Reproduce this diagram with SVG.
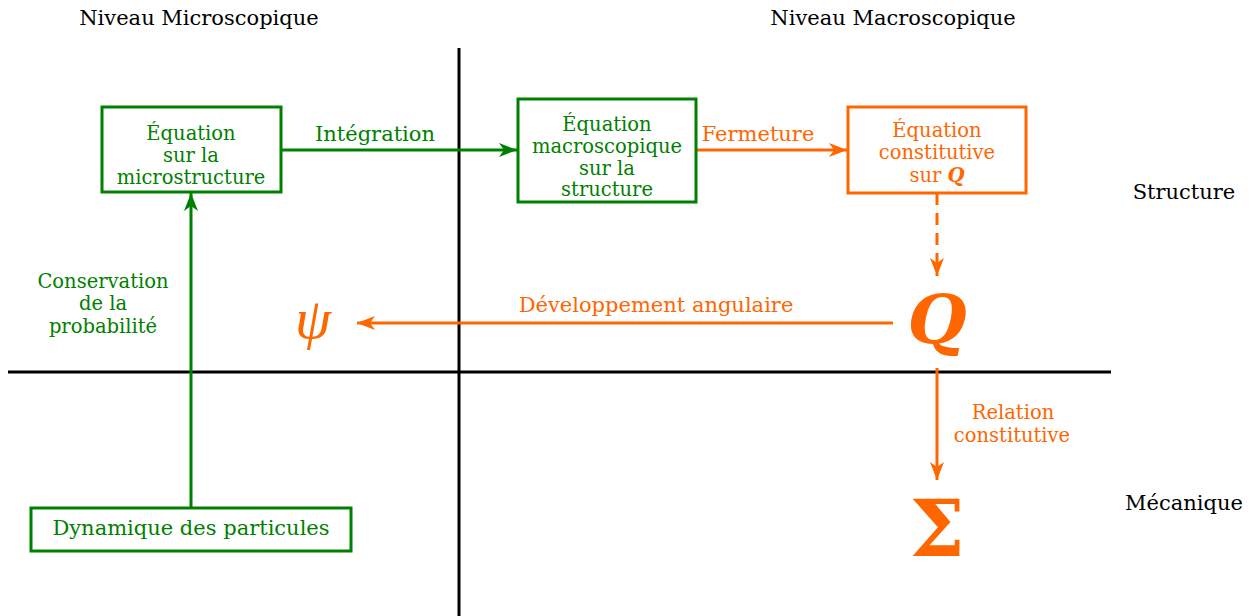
<svg xmlns="http://www.w3.org/2000/svg" width="1253" height="616" viewBox="0 0 1253 616">
<style>
text{font-family:"DejaVu Serif","Liberation Serif",serif;font-size:21px;text-anchor:middle}
text.s{font-size:19.5px}
.g{fill:#008000}
.o{fill:#ff6600}
.k{fill:#000}
.box{fill:#fff;stroke-width:3}
.gb{stroke:#008000}
.ob{stroke:#ff6600}
.ax{stroke:#000;stroke-width:3;fill:none}
.gl{stroke:#008000;stroke-width:3;fill:none}
.ol{stroke:#ff6600;stroke-width:3;fill:none}
.bi{font-weight:bold;font-style:italic}
</style>
<defs>
<marker id="ag" markerUnits="userSpaceOnUse" markerWidth="20" markerHeight="16" refX="18" refY="8" orient="auto" viewBox="0 0 20 16">
<path d="M18,8 L0,1 L5,8 L0,15 Z" fill="#008000"/>
</marker>
<marker id="ao" markerUnits="userSpaceOnUse" markerWidth="20" markerHeight="16" refX="18" refY="8" orient="auto" viewBox="0 0 20 16">
<path d="M18,8 L0,1 L5,8 L0,15 Z" fill="#ff6600"/>
</marker>
</defs>

<g id="axes">
<line class="ax" x1="459" y1="48" x2="459" y2="616"/>
<line class="ax" x1="8" y1="372" x2="1111" y2="372"/>
</g>

<g id="headers">
<text class="k" x="199" y="25">Niveau Microscopique</text>
<text class="k" x="893" y="25">Niveau Macroscopique</text>
<text class="k" x="1184" y="199">Structure</text>
<text class="k" x="1184" y="510">Mécanique</text>
</g>

<g id="connectors">
<line class="gl" x1="281" y1="150" x2="517" y2="150" marker-end="url(#ag)"/>
<text class="g" x="375" y="141">Intégration</text>
<line class="ol" x1="697" y1="150" x2="847" y2="150" marker-end="url(#ao)"/>
<text class="o" x="758" y="141">Fermeture</text>
<line class="ol" x1="937" y1="193" x2="937" y2="276" stroke-dasharray="12,8" marker-end="url(#ao)"/>
<line class="ol" x1="893" y1="323" x2="357" y2="323" marker-end="url(#ao)"/>
<text class="o" x="656" y="312">Développement angulaire</text>
<line class="ol" x1="937" y1="368" x2="937" y2="480" marker-end="url(#ao)"/>
<text class="o s" x="1013" y="419">Relation</text>
<text class="o s" x="1012" y="442">constitutive</text>
<line class="gl" x1="191" y1="508" x2="191" y2="193" marker-end="url(#ag)"/>
<text class="g s" x="103" y="288">Conservation</text>
<text class="g s" x="103" y="310">de la</text>
<text class="g s" x="103" y="333">probabilité</text>
</g>

<g id="micro">
<rect class="box gb" x="102" y="107" width="179" height="85"/>
<text class="g s" x="191" y="140">Équation</text>
<text class="g s" x="191" y="162">sur la</text>
<text class="g s" x="191" y="184">microstructure</text>
</g>

<g id="macro">
<rect class="box gb" x="518" y="99" width="178" height="103"/>
<text class="g s" x="607" y="131">Équation</text>
<text class="g s" x="607" y="153">macroscopique</text>
<text class="g s" x="607" y="175">sur la</text>
<text class="g s" x="607" y="196">structure</text>
</g>

<g id="constit">
<rect class="box ob" x="848" y="107" width="178" height="86"/>
<text class="o s" x="937" y="137">Équation</text>
<text class="o s" x="937" y="159">constitutive</text>
<text class="o s" x="937" y="182">sur <tspan class="bi">Q</tspan></text>
</g>

<g id="Q">
<text class="o bi" x="937" y="343" style="font-size:68px">Q</text>
</g>

<g id="psi">
<text class="o" x="313" y="338" style="font-family:'Liberation Serif',serif;font-size:58px;font-style:italic">ψ</text>
</g>

<g id="sigma">
<text class="o" x="937" y="556" style="font-size:78px;font-weight:bold">Σ</text>
</g>

<g id="dyn">
<rect class="box gb" x="31" y="508" width="320" height="43"/>
<text class="g" x="191" y="535">Dynamique des particules</text>
</g>
</svg>
